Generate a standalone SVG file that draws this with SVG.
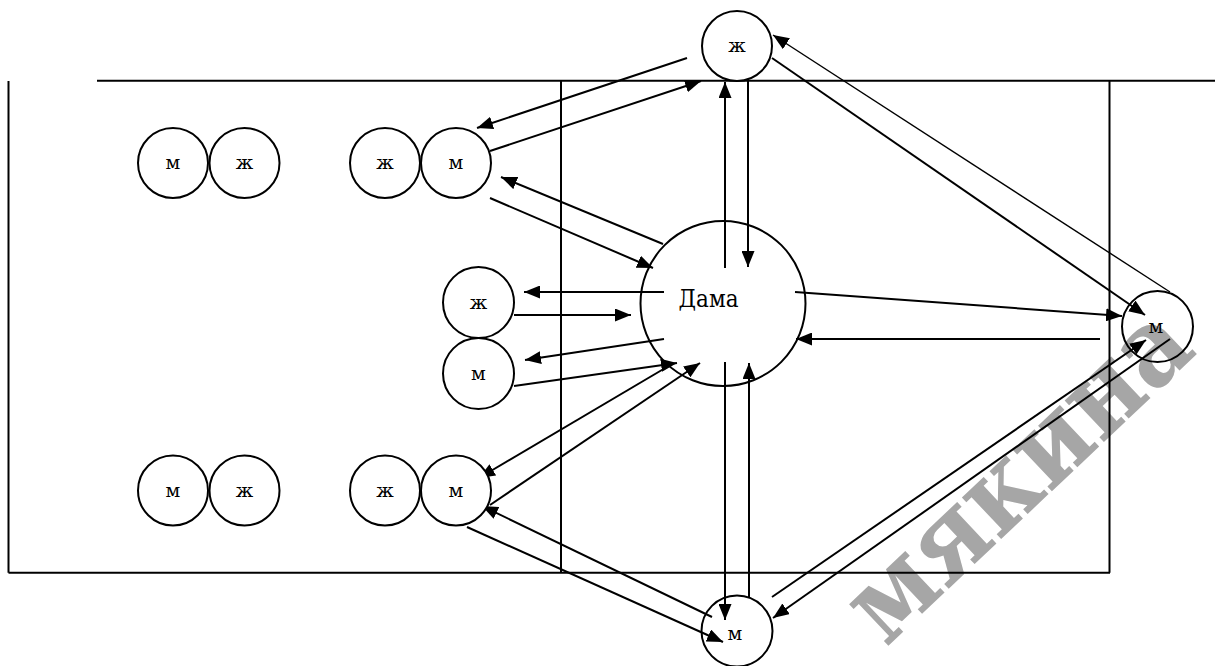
<svg xmlns="http://www.w3.org/2000/svg" width="1215" height="666" viewBox="0 0 1215 666">
  <defs>
    <marker id="ah" viewBox="0 0 16 13" refX="16" refY="6.5" markerWidth="16" markerHeight="13" markerUnits="userSpaceOnUse" orient="auto">
      <path d="M0,0 L16,6.5 L0,13 z" fill="#000"/>
    </marker>
    <style>
      .frame { fill: none; stroke: #000; stroke-width: 2; }
      .node circle { fill: #fff; stroke: #000; stroke-width: 2; }
      .node text { font-family: 'DejaVu Serif', 'Liberation Serif', serif; font-size: 19px; text-anchor: middle; fill: #000; }
      .conn line { stroke: #000; stroke-width: 2; marker-end: url(#ah); }
      .mark { font-family: 'DejaVu Serif', 'Liberation Serif', serif; font-weight: bold; font-size: 110px; fill: #a6a6a6; }
    </style>
  </defs>
  <rect width="1215" height="666" fill="#fff"/>

  <!-- background mark -->
  <text class="mark" transform="translate(886,648) rotate(-43.4)" textLength="430" lengthAdjust="spacingAndGlyphs">мякина</text>

  <!-- hall outline -->
  <g id="hall">
    <line class="frame" x1="97" y1="80.7" x2="1215" y2="80.7"/>
    <line class="frame" x1="8.5" y1="81" x2="8.5" y2="572.7"/>
    <line class="frame" x1="8.5" y1="572.7" x2="1110" y2="572.7"/>
    <line class="frame" x1="561" y1="80.7" x2="561" y2="572.7"/>
    <line class="frame" x1="1109.5" y1="80.7" x2="1109.5" y2="572.7"/>
  </g>

  <!-- connectors -->
  <g id="connectors" class="conn">
    <line x1="687" y1="58" x2="477" y2="128"/>
    <line x1="490" y1="151" x2="701" y2="81"/>
    <line x1="663" y1="244" x2="501" y2="177"/>
    <line x1="490" y1="198" x2="653" y2="268"/>
    <line x1="725" y1="268" x2="725" y2="82"/>
    <line x1="748" y1="81" x2="748" y2="267"/>
    <line x1="664" y1="292" x2="524" y2="292"/>
    <line x1="514" y1="315" x2="631" y2="315"/>
    <line x1="664" y1="339" x2="525" y2="360"/>
    <line x1="514" y1="386" x2="677" y2="363"/>
    <line x1="672" y1="364" x2="479" y2="478"/>
    <line x1="490" y1="505" x2="700" y2="363"/>
    <line x1="712" y1="617" x2="482" y2="506"/>
    <line x1="467" y1="527" x2="723" y2="642"/>
    <line x1="725" y1="362" x2="725" y2="620"/>
    <line x1="749" y1="597" x2="749" y2="363"/>
    <line x1="795" y1="292" x2="1122" y2="316"/>
    <line x1="1100" y1="339" x2="796" y2="339"/>
    <line x1="772" y1="58" x2="1145" y2="315"/>
    <line x1="1170" y1="292" x2="773" y2="35" style="stroke-width:1.4"/>
    <line x1="772" y1="597" x2="1146" y2="340"/>
    <line x1="1170" y1="339" x2="773" y2="618"/>
  </g>

  <!-- pairs on the left -->
  <g id="pair-tl-m" class="node"><circle cx="173" cy="163" r="35"/><text x="173" y="169">м</text></g>
  <g id="pair-tl-zh" class="node"><circle cx="244.5" cy="163" r="35"/><text x="244.5" y="169">ж</text></g>
  <g id="pair-tm-zh" class="node"><circle cx="385" cy="163" r="35"/><text x="385" y="169">ж</text></g>
  <g id="pair-tm-m" class="node"><circle cx="456" cy="163" r="35"/><text x="456" y="169">м</text></g>

  <g id="pair-bl-m" class="node"><circle cx="173" cy="490.5" r="35"/><text x="173" y="496.5">м</text></g>
  <g id="pair-bl-zh" class="node"><circle cx="244.5" cy="490.5" r="35"/><text x="244.5" y="496.5">ж</text></g>
  <g id="pair-bm-zh" class="node"><circle cx="385" cy="490.5" r="35"/><text x="385" y="496.5">ж</text></g>
  <g id="pair-bm-m" class="node"><circle cx="456" cy="490.5" r="35"/><text x="456" y="496.5">м</text></g>

  <!-- middle pair -->
  <g id="mid-zh" class="node"><circle cx="478.5" cy="302.5" r="35.5"/><text x="478.5" y="308.5">ж</text></g>
  <g id="mid-m" class="node"><circle cx="478.5" cy="373.5" r="35.5"/><text x="478.5" y="379.5">м</text></g>

  <!-- lady in the centre -->
  <g id="dama" class="node"><circle cx="723" cy="303.5" r="82.5" style="fill:none"/><text x="708.5" y="307" textLength="60" lengthAdjust="spacingAndGlyphs" style="font-size:24px">Дама</text></g>

  <!-- outer dancers -->
  <g id="top-zh" class="node"><circle cx="737" cy="46" r="35"/><text x="737" y="52">ж</text></g>
  <g id="right-m" class="node"><circle cx="1157.5" cy="326.5" r="35.5" style="fill:none"/><text x="1156" y="332.5">м</text></g>
  <g id="bottom-m" class="node"><circle cx="737" cy="631" r="35.5" style="fill:none"/><text x="735" y="640">м</text></g>
</svg>
